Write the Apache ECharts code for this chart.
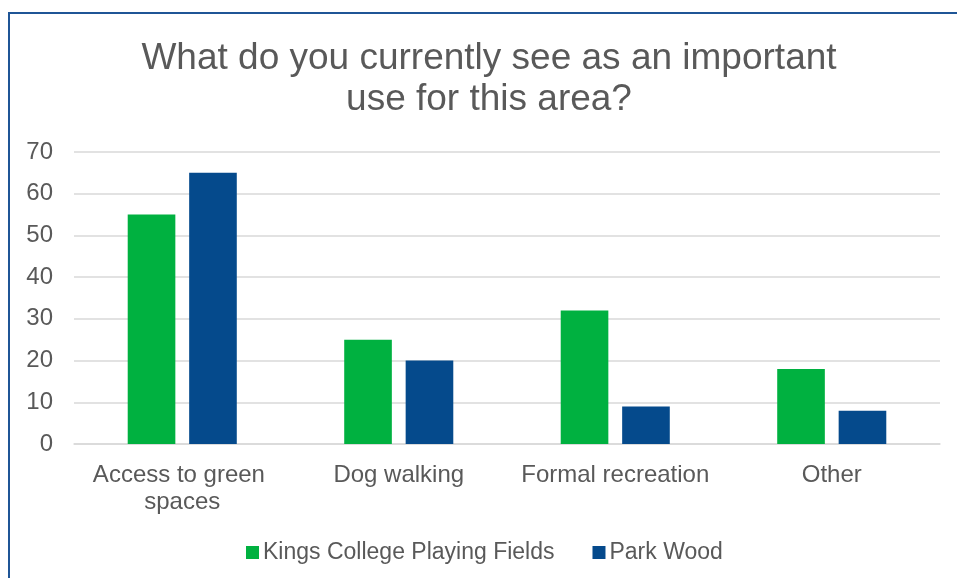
<!DOCTYPE html>
<html><head><meta charset="utf-8">
<script src="https://cdn.jsdelivr.net/npm/echarts@6/dist/echarts.min.js"></script>
<style>
html,body{margin:0;padding:0;background:#fff;}
#c{position:absolute;left:0;top:0;width:957px;height:578px;}
#frame{position:absolute;left:8px;top:12px;width:960px;height:600px;border:2px solid #1F5596;box-sizing:border-box;pointer-events:none;}
</style></head>
<body>
<div id="c"></div>
<div id="frame"></div>
<script>
const categories = ['Access to green spaces', 'Dog walking', 'Formal recreation', 'Other'];
const kingsCollege = [55, 25, 32, 18];
const parkWood = [65, 20, 9, 8];
const seriesNames = ['Kings College Playing Fields', 'Park Wood'];
const titleText = 'What do you currently see as an important\nuse for this area?';

const font = '"Liberation Sans", Arial, sans-serif';
const txt = '#595959';
const chart = echarts.init(document.getElementById('c'), null, {renderer: 'canvas'});
chart.setOption({
  animation: false,
  backgroundColor: '#fff',
  title: {
    text: titleText,
    left: 489,
    textAlign: 'center',
    top: 38,
    padding: 0,
    textStyle: {fontFamily: font, fontSize: 37, fontWeight: 'normal', color: txt, lineHeight: 41}
  },
  legend: {
    bottom: 14,
    left: 246,
    padding: 0,
    itemWidth: 13,
    itemHeight: 13,
    itemGap: 38,
    icon: 'rect',
    textStyle: {fontFamily: font, fontSize: 23, color: txt, padding: [0, 0, 0, -1]},
    data: seriesNames
  },
  grid: {left: 74, right: 17, top: 152, bottom: 134, containLabel: false},
  xAxis: {
    type: 'category',
    data: categories,
    axisLine: {lineStyle: {color: '#D9D9D9', width: 1.5}},
    axisTick: {show: false},
    axisLabel: {fontFamily: font, fontSize: 24, color: txt, margin: 18, lineHeight: 27, width: 200, overflow: 'break', interval: 0}
  },
  yAxis: {
    type: 'value',
    min: 0, max: 70, interval: 10,
    axisLine: {show: false},
    axisTick: {show: false},
    axisLabel: {fontFamily: font, fontSize: 24, color: txt, margin: 21},
    splitLine: {lineStyle: {color: '#D9D9D9', width: 1.5}}
  },
  series: [
    {name: seriesNames[0], type: 'bar', data: kingsCollege, barWidth: '22%', barGap: '29%',
     itemStyle: {color: '#00B140'}},
    {name: seriesNames[1], type: 'bar', data: parkWood, barWidth: '22%', barGap: '29%',
     itemStyle: {color: '#054A8C'}}
  ]
});
</script>
</body></html>
